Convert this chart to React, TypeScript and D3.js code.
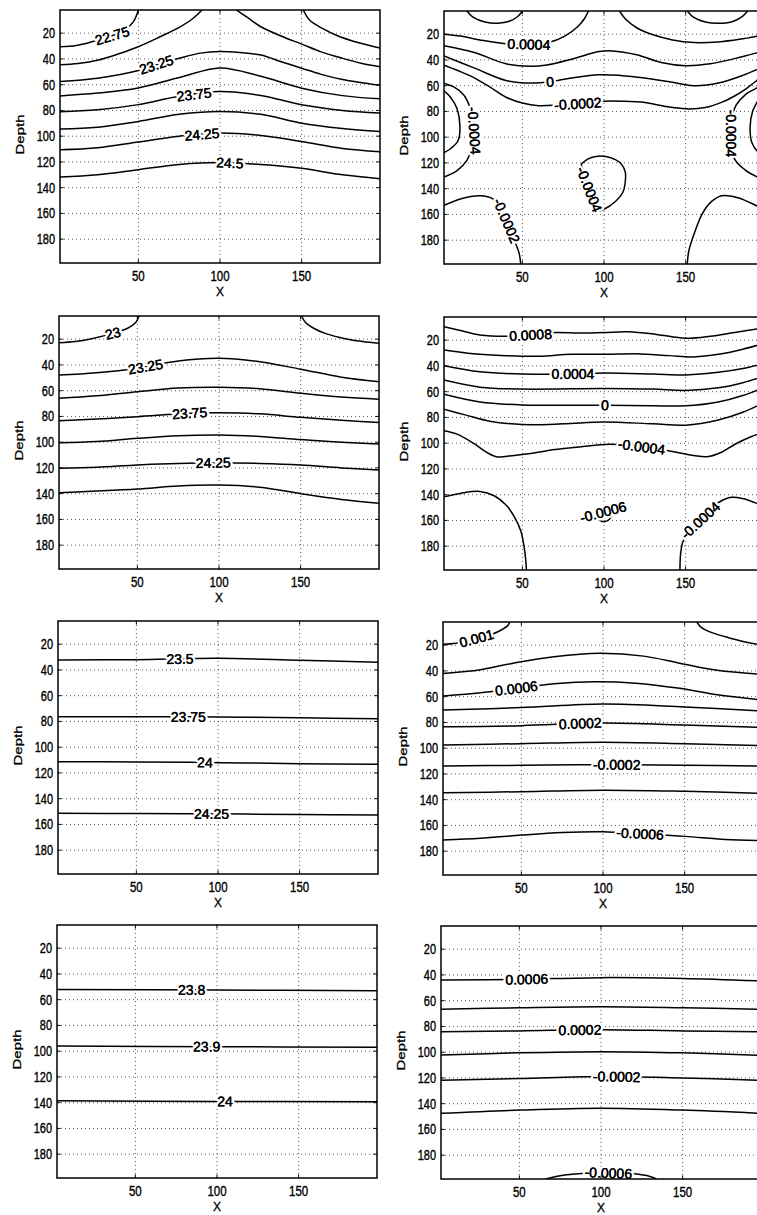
import React from 'react';
import * as d3 from 'd3';

type Pt = [number, number];

interface Contour {
  level: number;
  segments: Pt[][];
}

interface ContourLabel {
  text: string;
  at: Pt;
  angle?: number;
}

// axes
const xDomain: Pt = [2, 198];
const depthDomain: Pt = [2, 198.5];
const xTicks = [50, 100, 150];
const depthTicks = [20, 40, 60, 80, 100, 120, 140, 160, 180];

// ---- row 1 ----
const temp1: Contour[] = [
  { level: 22.75, segments: [
    [[2, 30.5], [12, 29.5], [22, 26.5], [34, 22], [42, 17], [47, 11], [50, 2]],
    [[151, 2], [155, 10], [163, 16.5], [172, 22], [185, 27.5], [198, 31.6]],
  ] },
  { level: 23, segments: [
    [[2, 44.6], [13, 43.5], [25, 41], [38, 36], [50, 30.5], [63, 23], [75, 15.5], [83, 9], [89, 2]],
    [[110, 2], [117, 8], [125, 15], [137, 22], [150, 28.5], [162, 34.5], [175, 39.5], [187, 43.5], [198, 46]],
  ] },
  { level: 23.25, segments: [
    [[2, 57.5], [25, 55], [50, 49], [61, 44.5], [75, 39.5], [88, 35.5], [100, 34.2], [112, 35], [125, 37], [137, 42], [150, 47.2], [162, 52], [175, 56], [198, 60.5]],
  ] },
  { level: 23.5, segments: [
    [[2, 68.7], [25, 66.5], [50, 62.5], [75, 54.5], [100, 47], [125, 53.5], [150, 62.7], [175, 68.5], [198, 71]],
  ] },
  { level: 23.75, segments: [
    [[2, 81], [25, 79.5], [50, 75.5], [75, 69], [100, 65.3], [125, 68.4], [150, 75.6], [175, 80], [198, 82]],
  ] },
  { level: 24, segments: [
    [[2, 94.5], [25, 93], [50, 88.6], [75, 83], [100, 80.8], [125, 83], [150, 89.9], [175, 94], [198, 96.4]],
  ] },
  { level: 24.25, segments: [
    [[2, 110.6], [25, 109], [50, 104.5], [75, 100], [100, 97.6], [125, 99.5], [150, 104.1], [175, 109.5], [198, 112]],
  ] },
  { level: 24.5, segments: [
    [[2, 131.8], [25, 130], [50, 126], [75, 122], [100, 120.5], [125, 122], [150, 125], [175, 130], [198, 133]],
  ] },
];
const temp1Labels: ContourLabel[] = [
  { text: '22.75', at: [34, 22] },
  { text: '23.25', at: [61, 44.5] },
  { text: '23.75', at: [84, 67] },
  { text: '24.25', at: [89, 99] },
  { text: '24.5', at: [106, 121] },
];

const anom1: Contour[] = [
  { level: 0.0006, segments: [
    [[16, 2], [20, 7], [27, 10.5], [35, 11.5], [42, 10], [47, 6.5], [50, 2]],
    [[151, 2], [155, 7], [162, 10.5], [170, 11.5], [178, 10.5], [184, 7], [188, 2]],
  ] },
  { level: 0.0004, segments: [
    [[2, 20], [12, 21.5], [24, 24.5], [40, 27.5], [54, 28], [66, 26.5], [76, 21.5], [84, 14], [88, 8], [90.5, 2]],
    [[109.5, 2], [113, 8], [120, 15], [130, 20.5], [142, 24.5], [155, 26.5], [170, 26], [183, 24], [198, 20.5]],
  ] },
  { level: 0.0002, segments: [
    [[2, 29], [20, 34], [40, 43], [55, 45], [65, 44], [80, 39.5], [97, 33.5], [105, 33], [120, 36], [135, 42], [150, 44.5], [165, 43], [180, 39], [198, 33]],
  ] },
  { level: 0, segments: [
    [[2, 37], [20, 46], [40, 56], [55, 58], [67, 57], [80, 54], [97, 51.5], [110, 52], [125, 54], [140, 57], [155, 60], [170, 58], [185, 52], [198, 45]],
  ] },
  { level: -0.0002, segments: [
    [[2, 44], [10, 48], [20, 53.5], [30, 61], [40, 69], [50, 73.5], [60, 75.5], [72, 75], [85, 74], [100, 72], [112, 72], [125, 73], [137, 76], [150, 78], [162, 77], [172, 73], [180, 68], [187, 62.5], [193.5, 56], [198, 52]],
    [[2, 153], [12, 148], [24, 145.5], [32, 148], [38, 158], [41, 167], [45, 180], [48, 190], [49, 198.5]],
    [[151, 198.5], [152, 188], [155.5, 174], [160, 160], [165, 151], [172, 145.5], [182, 147], [193.5, 153.3], [198, 156]],
  ] },
  { level: -0.0004, segments: [
    [[2, 58], [8, 61], [14, 67], [18, 77], [20, 87], [20.5, 97], [19, 108], [16, 118], [10, 126], [2, 131]],
    [[198, 58], [194, 61.5], [187, 66.5], [181, 75], [178, 87], [178, 97.6], [178.5, 108], [180, 117], [187, 126], [194, 131], [198, 133]],
    [[86, 121], [90, 117], [95, 115], [101, 115], [107, 117.5], [111, 121.5], [113, 127], [113, 135], [111.5, 143], [107, 150], [100, 156], [97, 157], [93, 147], [89, 134], [86, 121]],
  ] },
  { level: -0.0006, segments: [
    [[2, 64], [6, 69], [10, 78], [11.8, 92], [10.5, 103], [6, 109], [2, 112]],
    [[198, 64], [195, 70], [191, 80], [189.5, 92], [190.5, 104], [194, 111], [198, 114]],
  ] },
];
const anom1Labels: ContourLabel[] = [
  { text: '0.0004', at: [54, 28] },
  { text: '0', at: [67, 57] },
  { text: '-0.0002', at: [84, 74] },
  { text: '-0.0004', at: [20.5, 95] },
  { text: '-0.0004', at: [92, 140] },
  { text: '-0.0004', at: [178, 97] },
  { text: '-0.0002', at: [40, 165] },
];

// ---- row 2 ----
const temp2: Contour[] = [
  { level: 23, segments: [
    [[2, 22.7], [12, 21.8], [22, 19.6], [35, 15.5], [44, 11.5], [49, 7], [51, 2]],
    [[150.5, 2], [153, 7], [158, 11.5], [165, 15.5], [178, 19.8], [188, 21.8], [198, 23.2]],
  ] },
  { level: 23.25, segments: [
    [[2, 47.8], [25, 46], [50, 42.5], [55, 41.4], [75, 37], [99.6, 34.9], [125, 37.5], [150, 43.3], [175, 49.5], [198, 53]],
  ] },
  { level: 23.5, segments: [
    [[2, 65.9], [25, 64], [50, 60.8], [75, 58], [100, 57.4], [125, 58.5], [150, 62], [175, 65], [198, 66.7]],
  ] },
  { level: 23.75, segments: [
    [[2, 83.3], [25, 82], [50, 80.2], [82, 77.6], [100, 77.2], [125, 78], [150, 80.7], [175, 83], [198, 84.8]],
  ] },
  { level: 24, segments: [
    [[2, 100.4], [25, 99.5], [50, 97], [75, 95], [100, 94.4], [125, 95.5], [150, 98], [175, 100], [198, 101.4]],
  ] },
  { level: 24.25, segments: [
    [[2, 120.3], [25, 119.5], [50, 117.7], [75, 116.5], [96.5, 116], [125, 116.5], [150, 117.7], [175, 120], [198, 121.6]],
  ] },
  { level: 24.5, segments: [
    [[2, 139.2], [25, 138], [50, 136.4], [75, 134], [100, 133.3], [125, 135], [150, 140], [175, 144.5], [198, 147.5]],
  ] },
];
const temp2Labels: ContourLabel[] = [
  { text: '23', at: [35, 15.5] },
  { text: '23.25', at: [55, 41.4] },
  { text: '23.75', at: [82, 77.6] },
  { text: '24.25', at: [96.5, 116] },
];

const anom2: Contour[] = [
  { level: 0.0008, segments: [
    [[2, 9.5], [12, 12.5], [24, 16], [40, 17], [55, 16], [70, 14], [85, 14.5], [100, 14], [115, 13.5], [132, 15.5], [150, 18.5], [165, 17], [180, 14], [198, 10.5]],
  ] },
  { level: 0.0006, segments: [
    [[2, 27.6], [20, 30.5], [40, 32], [60, 32.5], [80, 31], [100, 31], [120, 30.5], [140, 32], [155, 33], [170, 31], [185, 27], [198, 22.5]],
  ] },
  { level: 0.0004, segments: [
    [[2, 39.8], [24, 44.5], [50, 46.3], [81, 46.3], [100, 45.5], [130, 46.3], [150, 47], [170, 45], [185, 42], [198, 38]],
  ] },
  { level: 0.0002, segments: [
    [[2, 51], [24, 56.5], [50, 58], [100, 57.5], [130, 58], [150, 59], [170, 57], [185, 53], [198, 48]],
  ] },
  { level: 0, segments: [
    [[2, 62], [24, 68], [50, 70.3], [100, 70.5], [130, 71], [150, 71], [170, 68], [185, 63], [198, 56.6]],
  ] },
  { level: -0.0002, segments: [
    [[2, 73.7], [15, 78], [30, 83], [50, 85.5], [75, 85], [100, 83.5], [130, 85], [150, 86], [170, 82], [185, 76], [198, 68.5]],
  ] },
  { level: -0.0004, segments: [
    [[2, 90.3], [10, 93], [20, 100], [28, 107], [34, 110.5], [45, 109.5], [55, 108], [70, 105], [85, 103], [100, 101], [115, 101.5], [130, 104], [142, 106.5], [155, 109.5], [163, 110.5], [172, 107], [180, 101], [190, 95], [198, 91.5]],
    [[146.5, 198.5], [147, 185], [148.5, 176], [153, 167], [159, 160], [165, 152], [171, 145.5], [178, 142], [185, 143], [192, 146], [198, 149.3]],
  ] },
  { level: -0.0006, segments: [
    [[2, 141.6], [12, 139], [24, 137.5], [33, 141], [40, 148], [45, 157], [49, 168], [51, 180], [52, 190], [52.5, 198.5]],
    [[95, 156], [97, 159.5], [100, 161], [103, 159.5], [104.5, 156.5]],
  ] },
];
const anom2Labels: ContourLabel[] = [
  { text: '0.0008', at: [55, 16] },
  { text: '0.0004', at: [81, 46.3] },
  { text: '0', at: [100.6, 70.5] },
  { text: '-0.0004', at: [123, 103] },
  { text: '-0.0006', at: [99.5, 153.5], angle: -15 },
  { text: '-0.0004', at: [159, 160] },
];

// ---- row 3 ----
const temp3: Contour[] = [
  { level: 23.5, segments: [[[2, 32.3], [50, 32], [100, 31], [150, 32.5], [198, 34]]] },
  { level: 23.75, segments: [[[2, 76.3], [50, 76.3], [100, 76.5], [150, 77.2], [198, 78]]] },
  { level: 24, segments: [[[2, 111.3], [50, 111.5], [100, 112], [150, 112.8], [198, 113.2]]] },
  { level: 24.25, segments: [[[2, 151.4], [50, 151.5], [100, 151.8], [150, 152.3], [198, 152.7]]] },
];
const temp3Labels: ContourLabel[] = [
  { text: '23.5', at: [76.7, 31.5] },
  { text: '23.75', at: [81.8, 76.4] },
  { text: '24', at: [92, 112] },
  { text: '24.25', at: [96, 151.8] },
];

const anom3: Contour[] = [
  { level: 0.001, segments: [
    [[2, 19.3], [10, 18.5], [22, 15], [32, 11.5], [38, 8], [41.5, 5], [43, 2]],
    [[157.5, 2], [160, 6], [165, 9.5], [175, 13.5], [187, 17.5], [198, 20]],
  ] },
  { level: 0.0008, segments: [[[2, 42], [25, 39], [45, 34], [70, 29], [98, 26.3], [125, 28.5], [147, 34], [170, 39.5], [198, 42.7]]] },
  { level: 0.0006, segments: [[[2, 59.5], [25, 57], [47, 53.5], [70, 50], [95, 48.4], [120, 49.5], [147, 53.5], [170, 58.5], [198, 62.6]]] },
  { level: 0.0004, segments: [[[2, 70.3], [50, 68.5], [100, 65.7], [150, 68], [198, 71.1]]] },
  { level: 0.0002, segments: [[[2, 83.3], [50, 82.5], [86, 80.8], [100, 80.5], [150, 82], [198, 83.8]]] },
  { level: 0, segments: [[[2, 97.5], [50, 96.5], [100, 95.4], [150, 96.5], [198, 98]]] },
  { level: -0.0002, segments: [[[2, 113.8], [50, 113.3], [100, 112.8], [150, 113.3], [198, 113.8]]] },
  { level: -0.0004, segments: [[[2, 134.6], [50, 133.8], [100, 132.6], [150, 133.5], [198, 135.1]]] },
  { level: -0.0006, segments: [[[2, 171.3], [25, 170], [50, 167.5], [75, 165.5], [100, 164.9], [123, 166.5], [150, 168.5], [175, 171], [198, 171.8]]] },
];
const anom3Labels: ContourLabel[] = [
  { text: '0.001', at: [22.6, 14.7] },
  { text: '0.0006', at: [47, 53.5] },
  { text: '0.0002', at: [86, 80.8] },
  { text: '-0.0002', at: [108.4, 113] },
  { text: '-0.0006', at: [122.7, 166.5] },
];

// ---- row 4 ----
const temp4: Contour[] = [
  { level: 23.8, segments: [[[2, 52], [100, 52.5], [198, 53]]] },
  { level: 23.9, segments: [[[2, 96], [100, 96.5], [198, 97]]] },
  { level: 24, segments: [[[2, 138.5], [100, 139], [198, 139.2]]] },
];
const temp4Labels: ContourLabel[] = [
  { text: '23.8', at: [84.5, 52.5] },
  { text: '23.9', at: [93.7, 96.5] },
  { text: '24', at: [104.9, 139] },
];

const anom4: Contour[] = [
  { level: 0.0006, segments: [[[2, 44], [50, 43.5], [100, 42.1], [150, 42.8], [198, 44.7]]] },
  { level: 0.0004, segments: [[[2, 66.7], [50, 65.5], [100, 64.7], [150, 65.5], [198, 66.7]]] },
  { level: 0.0002, segments: [[[2, 84.1], [50, 83.5], [100, 82.5], [150, 83.5], [198, 84.1]]] },
  { level: 0, segments: [[[2, 102.2], [50, 100.5], [100, 99.6], [150, 100.5], [198, 102.5]]] },
  { level: -0.0002, segments: [[[2, 121.9], [50, 120.5], [100, 118.8], [150, 120], [198, 121.9]]] },
  { level: -0.0004, segments: [[[2, 147.5], [50, 145], [100, 143.6], [150, 145], [198, 147.5]]] },
  { level: -0.0006, segments: [[[66, 198.5], [75, 196], [88, 194.3], [104, 193.8], [120, 194.5], [130, 196.5], [134, 198.5]]] },
];
const anom4Labels: ContourLabel[] = [
  { text: '0.0006', at: [54.5, 43.6] },
  { text: '0.0002', at: [87.1, 82.8] },
  { text: '-0.0002', at: [109.6, 118.8] },
  { text: '-0.0006', at: [104.5, 194] },
];

// layout
const W = 757;
const H = 1215;
const PW = 320;
const PH = 253;
const FONT = 'Liberation Sans, Arial, Helvetica, sans-serif';

const panels = [
  { id: 'p1', left: 60, top: 10, contours: temp1, labels: temp1Labels },
  { id: 'p2', left: 444, top: 11, contours: anom1, labels: anom1Labels },
  { id: 'p3', left: 59, top: 316, contours: temp2, labels: temp2Labels },
  { id: 'p4', left: 444, top: 317, contours: anom2, labels: anom2Labels },
  { id: 'p5', left: 58, top: 621, contours: temp3, labels: temp3Labels },
  { id: 'p6', left: 443, top: 622, contours: anom3, labels: anom3Labels },
  { id: 'p7', left: 57, top: 925, contours: temp4, labels: temp4Labels },
  { id: 'p8', left: 441, top: 926, contours: anom4, labels: anom4Labels },
];

// snap a label onto the nearest piece of its contour and align it with the line
function placeLabel(
  lab: ContourLabel,
  contours: Contour[],
  x: d3.ScaleLinear<number, number>,
  y: d3.ScaleLinear<number, number>,
) {
  const ax = x(lab.at[0]);
  const ay = y(lab.at[1]);
  if (lab.angle !== undefined) return { px: ax, py: ay, angle: lab.angle };
  let best = { d: Infinity, px: ax, py: ay, angle: 0 };
  contours.forEach((c) =>
    c.segments.forEach((seg) => {
      for (let i = 0; i < seg.length - 1; i++) {
        const x0 = x(seg[i][0]), y0 = y(seg[i][1]);
        const x1 = x(seg[i + 1][0]), y1 = y(seg[i + 1][1]);
        const dx = x1 - x0, dy = y1 - y0;
        const len2 = dx * dx + dy * dy || 1;
        const t = Math.max(0, Math.min(1, ((ax - x0) * dx + (ay - y0) * dy) / len2));
        const qx = x0 + t * dx, qy = y0 + t * dy;
        const d = Math.hypot(ax - qx, ay - qy);
        if (d < best.d) best = { d, px: qx, py: qy, angle: (Math.atan2(dy, dx) * 180) / Math.PI };
      }
    }),
  );
  let a = best.angle;
  if (a > 90) a -= 180;
  if (a <= -90) a += 180;
  if (a < -75) a += 180;
  return { px: best.px, py: best.py, angle: a };
}

const Panel: React.FC<{ p: typeof panels[number] }> = ({ p }) => {
  const x = d3.scaleLinear().domain(xDomain).range([0, PW]);
  const y = d3.scaleLinear().domain(depthDomain).range([0, PH]);
  const line = d3
    .line<Pt>()
    .x((d) => x(d[0]))
    .y((d) => y(d[1]))
    .curve(d3.curveCatmullRom.alpha(0.5));
  const tick = 3.5;

  return (
    <g transform={`translate(${p.left},${p.top})`}>
      <defs>
        <clipPath id={`clip-${p.id}`}>
          <rect width={PW} height={PH} />
        </clipPath>
      </defs>
      {/* dotted grid */}
      <g stroke="#444" strokeWidth={0.9} strokeDasharray="1 3">
        {xTicks.map((t) => (
          <line key={`gx${t}`} x1={x(t)} x2={x(t)} y1={0} y2={PH} />
        ))}
        {depthTicks.map((t) => (
          <line key={`gy${t}`} x1={0} x2={PW} y1={y(t)} y2={y(t)} />
        ))}
      </g>
      <g clipPath={`url(#clip-${p.id})`}>
        {p.contours.map((c, i) =>
          c.segments.map((s, j) => (
            <path key={`c${i}-${j}`} d={line(s) || ''} fill="none" stroke="#000" strokeWidth={1.5} />
          )),
        )}
        {p.labels.map((lab, i) => {
          const pl = placeLabel(lab, p.contours, x, y);
          return (
            <g key={`l${i}`} transform={`translate(${pl.px},${pl.py}) rotate(${pl.angle})`}>
              <text
                textAnchor="middle"
                dy="0.35em"
                fontSize={14}
                fontFamily={FONT}
                fill="#000"
                stroke="#fff"
                strokeWidth={5}
                strokeLinejoin="round"
                paintOrder="stroke"
              >
                {lab.text}
              </text>
              <text textAnchor="middle" dy="0.35em" fontSize={14} fontFamily={FONT} fill="#000" stroke="#000" strokeWidth={0.3}>
                {lab.text}
              </text>
            </g>
          );
        })}
      </g>
      <rect width={PW} height={PH} fill="none" stroke="#000" strokeWidth={1.5} />
      <g stroke="#000" strokeWidth={1}>
        {xTicks.map((t) => (
          <g key={`tx${t}`}>
            <line x1={x(t)} x2={x(t)} y1={PH} y2={PH - tick} />
            <line x1={x(t)} x2={x(t)} y1={0} y2={tick} />
          </g>
        ))}
        {depthTicks.map((t) => (
          <g key={`ty${t}`}>
            <line x1={0} x2={tick} y1={y(t)} y2={y(t)} />
            <line x1={PW} x2={PW - tick} y1={y(t)} y2={y(t)} />
          </g>
        ))}
      </g>
      <g fontFamily={FONT} fill="#000" stroke="#000" strokeWidth={0.3}>
        {xTicks.map((t) => (
          <g key={`lx${t}`} transform={`translate(${x(t)},${PH + 18}) scale(1,1.25)`}>
            <text textAnchor="middle" fontSize={11.5}>{t}</text>
          </g>
        ))}
        {depthTicks.map((t) => (
          <g key={`ly${t}`} transform={`translate(-5,${y(t) + 5}) scale(1,1.3)`}>
            <text textAnchor="end" fontSize={11}>{t}</text>
          </g>
        ))}
        <g transform={`translate(${PW / 2},${PH + 33.3}) scale(1,1.1)`}>
          <text textAnchor="middle" fontSize={12}>X</text>
        </g>
        <g transform={`translate(-36,${PH / 2 - 2}) scale(1,1.3) rotate(-90)`}>
          <text textAnchor="middle" fontSize={11.5}>Depth</text>
        </g>
      </g>
    </g>
  );
};

export default function App() {
  return (
    <svg
      width={W}
      height={H}
      viewBox={`0 0 ${W} ${H}`}
      style={{ position: 'absolute', left: 0, top: 0, background: '#fff' }}
    >
      <rect width={W} height={H} fill="#fff" />
      {panels.map((p) => (
        <Panel key={p.id} p={p} />
      ))}
    </svg>
  );
}
